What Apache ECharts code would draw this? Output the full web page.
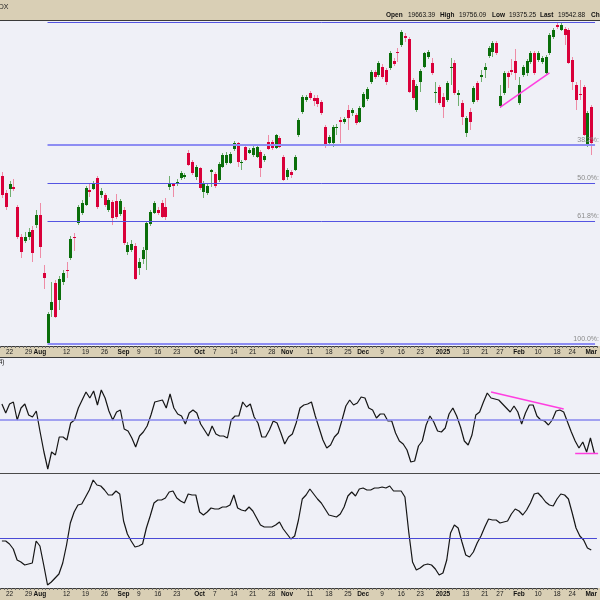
<!DOCTYPE html>
<html><head><meta charset="utf-8">
<script src="https://cdn.jsdelivr.net/npm/echarts@6/dist/echarts.min.js"></script>
<style>html,body{margin:0;padding:0;background:#eff0f7;}#c{width:600px;height:600px;}</style>
</head><body><div id="c"></div>
<script>
// ---- categories (trading days) ----
const dates = [
'2024-07-18','2024-07-19','2024-07-22','2024-07-23','2024-07-24','2024-07-25','2024-07-26','2024-07-29','2024-07-30','2024-07-31',
'2024-08-01','2024-08-02','2024-08-05','2024-08-06','2024-08-07','2024-08-08','2024-08-09','2024-08-12','2024-08-13','2024-08-14',
'2024-08-15','2024-08-16','2024-08-19','2024-08-20','2024-08-21','2024-08-22','2024-08-23','2024-08-26','2024-08-27','2024-08-28',
'2024-08-29','2024-08-30','2024-09-03','2024-09-04','2024-09-05','2024-09-06','2024-09-09','2024-09-10','2024-09-11','2024-09-12',
'2024-09-13','2024-09-16','2024-09-17','2024-09-18','2024-09-19','2024-09-20','2024-09-23','2024-09-24','2024-09-25','2024-09-26',
'2024-09-27','2024-09-30','2024-10-01','2024-10-02','2024-10-03','2024-10-04','2024-10-07','2024-10-08','2024-10-09','2024-10-10',
'2024-10-11','2024-10-14','2024-10-15','2024-10-16','2024-10-17','2024-10-18','2024-10-21','2024-10-22','2024-10-23','2024-10-24',
'2024-10-25','2024-10-28','2024-10-29','2024-10-30','2024-10-31','2024-11-01','2024-11-04','2024-11-05','2024-11-06','2024-11-07',
'2024-11-08','2024-11-11','2024-11-12','2024-11-13','2024-11-14','2024-11-15','2024-11-18','2024-11-19','2024-11-20','2024-11-21',
'2024-11-22','2024-11-25','2024-11-26','2024-11-27','2024-11-29','2024-12-02','2024-12-03','2024-12-04','2024-12-05','2024-12-06',
'2024-12-09','2024-12-10','2024-12-11','2024-12-12','2024-12-13','2024-12-16','2024-12-17','2024-12-18','2024-12-19','2024-12-20',
'2024-12-23','2024-12-24','2024-12-26','2024-12-27','2024-12-30','2024-12-31','2025-01-02','2025-01-03','2025-01-06','2025-01-07',
'2025-01-08','2025-01-10','2025-01-13','2025-01-14','2025-01-15','2025-01-16','2025-01-17','2025-01-21','2025-01-22','2025-01-23',
'2025-01-24','2025-01-27','2025-01-28','2025-01-29','2025-01-30','2025-01-31','2025-02-03','2025-02-04','2025-02-05','2025-02-06',
'2025-02-07','2025-02-10','2025-02-11','2025-02-12','2025-02-13','2025-02-14','2025-02-18','2025-02-19','2025-02-20','2025-02-21',
'2025-02-24','2025-02-25','2025-02-26','2025-02-27','2025-02-28','2025-03-03','2025-03-04'
];

// ---- price OHLC ----
const opens = [
19912,19657,19717,19747,19447,18997,18937,18997,19102,19177,
19327,18457,17407,17902,18307,18052,18322,18502,18682,18997,
19207,19357,19477,19702,19717,19882,19627,19627,19402,19522,
19537,19342,19402,18772,18802,18862,18532,18667,18802,19192,
19357,19402,19507,19447,19747,19792,19807,19882,19897,20257,
20122,19897,20032,19672,19657,19972,19942,19852,20047,20107,
20107,20317,20407,20115,20347,20257,20227,20197,20272,20152,
20422,20422,20332,20482,20197,19897,19972,20002,20527,20872,
21052,21157,21082,21082,21022,20647,20407,20407,20632,20752,
20722,20902,20857,20827,20722,20947,21067,21322,21472,21427,
21547,21502,21532,21637,21772,21877,22012,21967,21352,20902,
21322,21547,21697,21607,21157,21247,21097,21052,21532,21607,
21127,21007,20557,20872,21022,21307,21397,21502,21712,21772,
21907,20962,21157,21457,21502,21637,21007,21427,21457,21622,
21757,21652,21622,21457,21757,21997,22177,22102,22117,22102,
21652,21277,21142,21247,20377,20947
];
const closes = [
19627,19447,19792,19717,18997,18772,18997,19072,18757,19327,
18847,18382,17842,18022,17797,18367,18457,18487,18967,18982,
19447,19507,19732,19672,19792,19447,19687,19477,19552,19282,
19297,19537,18907,18877,18892,18367,18622,18802,19207,19372,
19507,19357,19297,19297,19807,19762,19822,19957,19927,20077,
19957,20047,19732,19807,19762,20002,19762,20092,20227,20227,
20242,20407,20122,20122,20152,20302,20332,20347,20032,20212,
20317,20332,20527,20347,19852,20002,19927,20197,20752,21097,
21097,21082,21037,20992,20857,20362,20497,20647,20647,20722,
20767,20782,20902,20707,20932,21142,21217,21472,21397,21607,
21397,21322,21757,21592,21757,22072,21982,21172,21082,21262,
21487,21757,21772,21457,21172,21007,20947,21307,21547,21157,
21157,20797,20782,20722,21232,21052,21427,21547,21832,21907,
21757,21112,21457,21397,21472,21457,21277,21547,21637,21757,
21457,21757,21682,21697,22027,22102,22147,22177,22027,21607,
21322,21052,21120,20527,20857,20407
];
const lows = [
19582,19402,19597,19687,18967,18682,18907,18952,18622,19132,
18682,18217,17392,17797,17782,17902,18277,18382,18652,18787,
19177,19327,19462,19597,19702,19417,19582,19447,19372,19177,
19267,19312,18877,18727,18772,18352,18427,18592,18502,19162,
19342,19327,19282,19252,19702,19597,19762,19852,19867,20062,
19927,19852,19702,19582,19627,19747,19732,19822,20032,20077,
20092,20287,20047,20002,20137,20242,20197,20182,19897,20122,
20302,20302,20317,20332,19837,19852,19882,19987,20497,20842,
21022,21052,20962,20947,20827,20332,20362,20347,20527,20407,
20692,20602,20812,20677,20707,20932,21037,21292,21367,21397,
21367,21277,21502,21562,21622,21847,21922,21157,21052,20872,
21172,21532,21667,21427,21007,20977,20782,21022,21277,21127,
20962,20677,20497,20602,20992,21022,21322,21382,21682,21697,
21727,20932,21127,21232,21427,21352,20977,21397,21412,21592,
21427,21622,21592,21442,21727,21967,22117,22087,21877,21592,
21202,20902,21052,20512,20347,20227
];
const highs = [
19972,19702,19837,19867,19477,19042,19072,19132,19162,19402,
19507,18577,17872,18322,18352,18412,18502,18622,19012,19057,
19477,19552,19762,19807,19837,19912,19732,19657,19582,19552,
19642,19567,19447,18922,18952,18907,18682,18847,19237,19402,
19537,19447,19552,19582,19912,19807,19867,19987,19957,20302,
20152,20077,20047,19837,19807,20017,19972,20122,20257,20272,
20272,20437,20422,20152,20377,20332,20362,20377,20302,20242,
20527,20452,20542,20512,20227,20032,20002,20227,20782,21127,
21127,21187,21127,21127,21052,20677,20527,20677,20692,20797,
20797,20977,20932,20857,20962,21172,21247,21502,21502,21637,
21592,21532,21787,21682,21832,22102,22057,21997,21382,21292,
21517,21772,21802,21682,21322,21277,21157,21337,21682,21652,
21202,21052,20812,20932,21262,21337,21502,21607,21862,21937,
21937,21277,21487,21487,21667,21817,21397,21577,21667,21787,
21787,21787,21712,21727,22057,22132,22207,22222,22147,22132,
21697,21322,21352,21277,20887,20977
];

// ---- indicator panels ----
const indicator1 = [
58,53.5,58,59,50,56,58,52.5,51.5,54.5,
44,34,25.5,34,32.5,41.5,41.5,40,48.5,50,
56,60,64,61,64.5,57.5,65,61,54.5,50,
54,55,45.5,44.5,41,36.5,42,44,47,52.5,
59,59.5,60,56,63,56,53,52,48,53.5,
55,53.5,48,45,42,47,43,42,42,41,
50,52,52,59,56.5,58,51.5,48.5,41.5,41.5,
45,49.5,48.5,43.5,38,41.5,43,48.5,56,57.5,
58,59,52,46,40,36,37.5,41.5,43.5,50,
57,60,57.5,58.5,61.5,61,56,55,51,53,
53,49.5,49.5,43.5,39.5,38,35,29,29.5,37,
39.5,47.5,52,49,44.5,44,46,53,56,52,
46.5,39.5,37.5,42.5,52.5,54,59,63.5,61,60.5,
60,58,56,54,57,54,48,53.5,57.5,57.5,
52,50,49.5,47.5,50,54.5,55,54,49,44,
39.5,36,39,34,41,33.5
];
const indicator2 = [
47.6,47.6,45.2,41.2,32.4,30.8,28.4,29.2,30.0,47.6,
43.6,28.4,12.4,14.8,18.0,21.2,30.0,44.4,62.0,70.8,
76.4,77.2,82.8,88.4,96.4,92.4,91.6,88.4,84.4,84.4,
87.6,85.2,63.6,53.2,47.6,42.8,43.6,45.2,58.0,67.6,
78.0,80.4,80.4,82.0,86.8,87.6,82.0,79.6,78.0,85.2,
84.4,84.4,70.8,68.4,70.8,74.0,73.2,73.2,74.8,74.8,
76.4,84.4,74.0,72.4,71.6,74.8,71.6,66.0,60.4,58.8,
58.8,58.8,60.4,62.8,57.2,53.2,49.2,51.6,64.4,81.2,
84.4,89.2,85.2,81.2,78.0,73.2,68.4,67.6,66.8,69.2,
74.8,83.6,86.8,83.6,89.2,90.0,88.4,88.4,90.0,90.0,
90.8,90.0,91.6,87.6,87.6,87.6,82.8,54.8,30.8,24.4,
26.0,28.4,29.2,28.4,25.2,20.4,22.0,32.4,54.0,60.4,
58.0,46.8,36.4,34.8,38.8,46.0,51.6,58.8,65.2,64.4,
64.4,62.0,62.8,63.6,69.2,73.2,71.6,68.4,72.4,78.0,
85.2,86.0,82.8,78.8,76.4,75.6,81.2,85.2,84.4,81.2,
70.0,58.0,51.6,48.4,42.0,40.4
];

// ---- tick labels ----
const tickDates = ['2024-07-22','2024-07-29','2024-08-01','2024-08-12','2024-08-19','2024-08-26','2024-09-03','2024-09-09','2024-09-16','2024-09-23',
'2024-10-01','2024-10-07','2024-10-14','2024-10-21','2024-10-28','2024-11-01','2024-11-11','2024-11-18','2024-11-25','2024-12-02',
'2024-12-09','2024-12-16','2024-12-23','2025-01-02','2025-01-13','2025-01-21','2025-01-27','2025-02-03','2025-02-10','2025-02-18',
'2025-02-24','2025-03-03'];
const tickLabels = ['22','29','Aug','12','19','26','Sep','9','16','23',
'Oct','7','14','21','28','Nov','11','18','25','Dec',
'9','16','23','2025','13','21','27','Feb','10','18',
'24','Mar'];
const boldTicks = ['Aug','Sep','Oct','Nov','Dec','2025','Feb','Mar'];

// ---- annotations ----
const fibHigh = 22222, fibLow = 17392;
const fibLevels = [0, 38.2, 50, 61.8, 100];
const fibStart = '2024-08-05', lineEnd = '2025-03-04';
const priceTrend = [['2025-01-27', 20940], ['2025-02-13', 21460]];
const ind1Trend = [['2025-01-22', 64], ['2025-02-19', 55.5]];
const ind1Flat = [['2025-02-24', 33.3], ['2025-03-04', 33.3]];
const ind1Mid = 50, ind2Mid = 50;
const header = [['Open',true],['19663.39',false],['High',true],['19756.09',false],['Low',true],['19375.25',false],['Last',true],['19542.88',false],['Chg',true]];

// ---------------------------------------------------------
const FONT = '"Liberation Sans", Arial, sans-serif';
const tickMap = {}; tickDates.forEach((d, i) => tickMap[d] = tickLabels[i]);
const candleData = opens.map((o, i) => [i, o, closes[i], lows[i], highs[i]]);
const GW = 603;

function dateAxis(gi, showLabels) {
  return {
    type: 'category', gridIndex: gi, data: dates, boundaryGap: true,
    axisLine: { show: showLabels, lineStyle: { color: '#3a3a3a', width: 1 } },
    axisTick: { show: showLabels, interval: 0, length: 2, lineStyle: { color: '#6a6a6a' } },
    axisLabel: {
      show: showLabels, margin: 3, fontSize: 6.5, fontFamily: FONT, color: '#222',
      interval: (idx, val) => (val in tickMap),
      formatter: val => { const t = tickMap[val] || ''; return boldTicks.includes(t) ? '{b|' + t + '}' : t; },
      rich: { b: { fontWeight: 'bold', fontSize: 6.5, fontFamily: FONT, color: '#111' } }
    },
    splitLine: { show: false }
  };
}

const fibMarks = fibLevels.map(l => {
  const v = fibHigh - (fibHigh - fibLow) * l / 100;
  const thick = (l === 38.2 || l === 100);
  return [
    { coord: [fibStart, v], lineStyle: { color: thick ? '#8d8df3' : '#5454e2', width: thick ? 2 : 1, type: 'solid' },
      label: { show: l !== 0, formatter: l.toFixed(1) + '%:' } },
    { coord: [lineEnd, v] }
  ];
});

const headerTexts = [];
const headerX = [386, 408, 440, 459, 492, 509, 540, 558, 591];
header.forEach((h, i) => headerTexts.push({
  type: 'text', x: headerX[i], y: 15, z: 20,
  style: { text: h[0], fontSize: 6.5, fontWeight: h[1] ? 'bold' : 'normal', fontFamily: FONT, fill: '#111', verticalAlign: 'middle' }
}));

const option = {
  animation: false,
  backgroundColor: '#eff0f7',
  grid: [
    { left: 0, top: 20, width: GW, height: 326 },
    { left: 0, top: 358, width: GW, height: 114 },
    { left: 0, top: 474, width: GW, height: 114 }
  ],
  xAxis: [dateAxis(0, true), dateAxis(1, false), dateAxis(2, true)],
  yAxis: [
    { type: 'value', gridIndex: 0, min: 17362, max: 22252, show: false },
    { type: 'value', gridIndex: 1, min: 24, max: 81, show: false },
    { type: 'value', gridIndex: 2, min: 10, max: 101.2, show: false }
  ],
  graphic: [
    { type: 'rect', z: 0, shape: { x: 0, y: 0, width: 600, height: 20 }, style: { fill: '#d9cfb5' } },
    { type: 'line', z: 0, shape: { x1: 0, y1: 20.5, x2: 600, y2: 20.5 }, style: { stroke: '#3a3a3a', lineWidth: 1 } },
    { type: 'rect', z: 0, shape: { x: 0, y: 346, width: 600, height: 11 }, style: { fill: '#d9cfb5' } },
    { type: 'line', z: 0, shape: { x1: 0, y1: 357.5, x2: 600, y2: 357.5 }, style: { stroke: '#3a3a3a', lineWidth: 1 } },
    { type: 'line', z: 0, shape: { x1: 0, y1: 473.5, x2: 600, y2: 473.5 }, style: { stroke: '#4a4a4a', lineWidth: 1 } },
    { type: 'rect', z: 0, shape: { x: 0, y: 588, width: 600, height: 12 }, style: { fill: '#d9cfb5' } },
    { type: 'text', x: 8.5, y: 7, z: 20, style: { text: '$NDX', fontSize: 7, fontFamily: FONT, fill: '#222', align: 'right', verticalAlign: 'middle' } },
    { type: 'text', x: 4.5, y: 362.5, z: 20, style: { text: 'RSI(14)', fontSize: 6.5, fontFamily: FONT, fill: '#222', align: 'right', verticalAlign: 'middle' } }
  ].concat(headerTexts),
  series: [
    {
      name: 'fib', type: 'line', xAxisIndex: 0, yAxisIndex: 0, data: [], z: 1,
      markLine: {
        silent: true, symbol: 'none', animation: false,
        label: { position: 'insideEndTop', distance: [-4, 1], fontSize: 7, fontFamily: FONT, color: '#8a8a8a' },
        data: fibMarks
      }
    },
    {
      name: 'price', type: 'custom', xAxisIndex: 0, yAxisIndex: 0, z: 3,
      data: candleData,
      encode: { x: 0, y: [1, 2, 3, 4] },
      renderItem: (params, api) => {
        const i = api.value(0);
        const o = api.coord([i, api.value(1)]), c = api.coord([i, api.value(2)]);
        const lo = api.coord([i, api.value(3)]), hi = api.coord([i, api.value(4)]);
        const up = api.value(2) >= api.value(1);
        const cx = Math.round(o[0]);
        const top = Math.round(Math.min(o[1], c[1])), bot = Math.round(Math.max(o[1], c[1]));
        return {
          type: 'group', children: [
            { type: 'line', shape: { x1: cx + 0.5, y1: Math.round(hi[1]), x2: cx + 0.5, y2: Math.round(lo[1]) },
              style: { stroke: up ? '#6fae6f' : '#ee8ca6', lineWidth: 1 } },
            { type: 'rect', shape: { x: cx - 1, y: top, width: 3, height: Math.max(1, bot - top) },
              style: { fill: up ? '#0a6e0a' : '#d9003a' } }
          ]
        };
      }
    },
    {
      name: 'trend', type: 'line', xAxisIndex: 0, yAxisIndex: 0, z: 5, data: priceTrend,
      showSymbol: false, lineStyle: { color: '#ff3ee0', width: 1.5 }
    },
    {
      name: 'ind1', type: 'line', xAxisIndex: 1, yAxisIndex: 1, data: indicator1, z: 3,
      showSymbol: false, lineStyle: { color: '#151515', width: 1.2 },
      markLine: { silent: true, symbol: 'none', label: { show: false },
        lineStyle: { color: '#8787ee', width: 1.5, type: 'solid' }, data: [{ yAxis: ind1Mid }] }
    },
    {
      name: 'ind1Trend', type: 'line', xAxisIndex: 1, yAxisIndex: 1, z: 5, data: ind1Trend,
      showSymbol: false, lineStyle: { color: '#ff3ee0', width: 1.5 }
    },
    {
      name: 'ind1Flat', type: 'line', xAxisIndex: 1, yAxisIndex: 1, z: 5, data: ind1Flat,
      showSymbol: false, lineStyle: { color: '#ff3ee0', width: 1.5 }
    },
    {
      name: 'ind2', type: 'line', xAxisIndex: 2, yAxisIndex: 2, data: indicator2, z: 3,
      showSymbol: false, lineStyle: { color: '#151515', width: 1.2 },
      markLine: { silent: true, symbol: 'none', label: { show: false },
        lineStyle: { color: '#4a4ad6', width: 1, type: 'solid' }, data: [{ yAxis: ind2Mid }] }
    }
  ]
};
const chart = echarts.init(document.getElementById('c'), null, { renderer: 'canvas', width: 600, height: 600 });
chart.setOption(option);
</script>
</body></html>
